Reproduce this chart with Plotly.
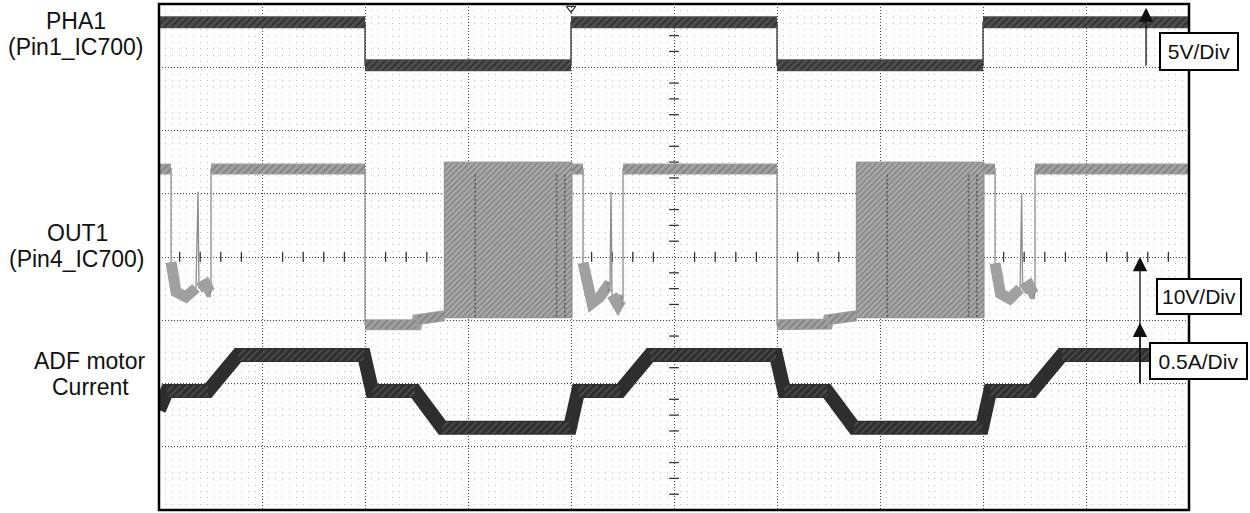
import numpy as np
import plotly.graph_objects as go

# ---------------- data (units: screen divisions; 10 div wide, 8 div tall, centre line = 0) ----------------
pha1_t = [0.0, 2.0, 2.0, 4.0, 4.0, 6.0, 6.0, 8.0, 8.0, 10.0]
pha1_v = [3.71, 3.71, 3.03, 3.03, 3.71, 3.71, 3.03, 3.03, 3.71, 3.71]

out1_t = [0.0, 0.117, 0.117, 0.165, 0.262, 0.359, 0.379, 0.388, 0.456, 0.495, 0.505, 0.505, 2.0, 2.0, 2.50, 2.51, 2.77, None,
          4.01, 4.117, 4.117, 4.204, 4.28, 4.35, 4.378, 4.388, 4.398, 4.456, 4.485, 4.505, 4.505, 6.0, 6.0, 6.49, 6.50, 6.77, None,
          8.01, 8.117, 8.117, 8.17, 8.26, 8.36, 8.375, 8.385, 8.45, 8.49, 8.505, 8.505, 10.0]
out1_v = [1.39, 1.39, -0.08, -0.55, -0.63, -0.49, 1.03, -0.49, -0.43, -0.55, -0.55, 1.39, 1.39, -1.07, -1.07, -0.99, -0.93, None,
          1.39, 1.39, -0.09, -0.73, -0.63, -0.47, -0.49, 1.03, -0.60, -0.76, -0.68, -0.68, 1.39, 1.39, -1.07, -1.06, -0.99, -0.93, None,
          1.39, 1.39, -0.10, -0.58, -0.66, -0.50, 1.00, -0.52, -0.45, -0.58, -0.58, 1.39, 1.39]

pwm_start = [2.77, 6.77]
pwm_end = [4.01, 8.01]
pwm_top = 1.50
pwm_bottom = -0.96
pwm_dense_t = [3.07, 3.86, 3.94, 7.07, 7.86, 7.94]   # darker columns inside the PWM bursts
pwm_dense_top = 1.30

cur_t = [0.0, 0.078, 0.476, 0.767, 1.99, 2.07, 2.485, 2.75, 3.99, 4.07, 4.476, 4.767, 5.99, 6.07,
         6.485, 6.75, 7.99, 8.07, 8.476, 8.767, 10.0]
cur_v = [-2.42, -2.12, -2.12, -1.55, -1.55, -2.12, -2.12, -2.70, -2.70, -2.12, -2.12, -1.55, -1.55, -2.12,
         -2.12, -2.70, -2.70, -2.12, -2.12, -1.55, -1.55]

left_labels = [("PHA1", 76, 21), ("(Pin1_IC700)", 76, 47),
               ("OUT1", 77, 233), ("(Pin4_IC700)", 77, 259),
               ("ADF motor", 90, 361), ("Current", 90, 387)]
scale_labels = ["5V/Div", "10V/Div", "0.5A/Div"]

# ---------------- geometry ----------------
W, H = 1250, 513
L, R, T, B = 159, 1189, 4, 510
PX_X = (R - L) / 10.0
PX_Y = (B - T) / 8.0


def px_x(x):
    return (x - L) / (R - L)


def px_y(y):
    return (B - y) / (B - T)


def split(t, v, thick_px, max_slope):
    tx, ty, hx, hy = [], [], [], []
    last = None
    for i in range(len(t) - 1):
        t0, v0, t1, v1 = t[i], v[i], t[i + 1], v[i + 1]
        if None in (t0, v0, t1, v1):
            continue
        dx = (t1 - t0) * PX_X
        dy = (v1 - v0) * PX_Y
        if dx <= 0 or abs(dy) > max_slope * dx:
            continue
        if last != (t0, v0):
            if tx:
                tx.append(None); ty.append(None)
            tx.append(t0); ty.append(v0)
        tx.append(t1); ty.append(v1)
        last = (t1, v1)
        if abs(dy) < 0.5 * dx:
            hh = thick_px * 0.42 / PX_Y
            hx += [t0, t1, t1, t0, t0, None]
            hy += [v0 + hh, v1 + hh, v1 - hh, v0 - hh, v0 + hh, None]
    return tx, ty, hx, hy


fig = go.Figure()

# graticule centre-line ticks
xt = [x for x in np.arange(0.2, 10.0, 0.2) if abs(x - round(x)) > 1e-6]
fig.add_trace(go.Scatter(x=xt, y=[0] * len(xt), mode="markers",
                         marker=dict(symbol="line-ns", size=7, color="#333", line=dict(width=1.3, color="#333")),
                         hoverinfo="skip", showlegend=False))
yt = [y for y in np.arange(-3.75, 4.0, 0.25) if abs(y - round(y)) > 1e-6]
fig.add_trace(go.Scatter(x=[5] * len(yt), y=yt, mode="markers",
                         marker=dict(symbol="line-ew", size=7, color="#333", line=dict(width=1.3, color="#333")),
                         hoverinfo="skip", showlegend=False))

# PWM blocks of OUT1
px_, py_ = [], []
for s, e in zip(pwm_start, pwm_end):
    px_ += [s, e, e, s, s, None]
    py_ += [pwm_top, pwm_top, pwm_bottom, pwm_bottom, pwm_top, None]
fig.add_trace(go.Scatter(x=px_, y=py_, mode="lines", fill="toself",
                         fillcolor="#a8a8a8", line=dict(color="#8a8a8a", width=1),
                         fillpattern=dict(shape="/", fgcolor="#606060", bgcolor="#ababab", size=4, solidity=0.45),
                         hoverinfo="skip", showlegend=False))
dx_, dy_ = [], []
for t in pwm_dense_t:
    dx_ += [t, t, None]
    dy_ += [pwm_dense_top, pwm_bottom, None]
fig.add_trace(go.Scatter(x=dx_, y=dy_, mode="lines", line=dict(color="#5a5a5a", width=1.6, dash="2px,2px"),
                         hoverinfo="skip", showlegend=False))


def add_trace(t, v, thin_color, thick_color, hatch_color, thick_px, max_slope):
    fig.add_trace(go.Scatter(x=t, y=v, mode="lines", line=dict(color=thin_color, width=1.3),
                             hoverinfo="skip", showlegend=False))
    tx, ty, hx, hy = split(t, v, thick_px, max_slope)
    fig.add_trace(go.Scatter(x=tx, y=ty, mode="lines", line=dict(color=thick_color, width=thick_px),
                             hoverinfo="skip", showlegend=False))
    fig.add_trace(go.Scatter(x=hx, y=hy, mode="lines", fill="toself", fillcolor="rgba(0,0,0,0)",
                             line=dict(width=0, color="rgba(0,0,0,0)"),
                             fillpattern=dict(shape="/", fgcolor=hatch_color, bgcolor="rgba(0,0,0,0)",
                                              size=5, solidity=0.35),
                             hoverinfo="skip", showlegend=False))


add_trace(out1_t, out1_v, "#8c8c8c", "#a0a0a0", "#626262", 11, 7.0)
add_trace(pha1_t, pha1_v, "#333", "#4e4e4e", "#111", 12, 7.0)
add_trace(cur_t, cur_v, "#111", "#2e2e2e", "#6a6a6a", 14, 7.0)

# trigger marker
fig.add_trace(go.Scatter(x=[4.0], y=[3.93], mode="markers",
                         marker=dict(symbol="triangle-down-open", size=8, color="#333",
                                     line=dict(width=1.2, color="#333")),
                         hoverinfo="skip", showlegend=False))

annotations = []
for txt, cx, cy in left_labels:
    annotations.append(dict(text=txt, xref="paper", yref="paper", x=px_x(cx), y=px_y(cy),
                            xanchor="center", yanchor="middle", showarrow=False,
                            font=dict(size=23, color="#111")))

boxes = [(scale_labels[0], 1199, 51, 72, 31),
         (scale_labels[1], 1199, 296.5, 78, 29),
         (scale_labels[2], 1198.5, 361, 91, 30)]
for txt, cx, cy, w, h in boxes:
    annotations.append(dict(text=txt, xref="paper", yref="paper", x=px_x(cx), y=px_y(cy),
                            xanchor="center", yanchor="middle", showarrow=False,
                            width=w, height=h, borderpad=2, borderwidth=2, bordercolor="#000",
                            bgcolor="#fff", font=dict(size=21, color="#111")))

arrows = [(9.583, 3.94, 3.0), (9.524, 0.0, -2.02), (9.524, -1.04, -2.02)]
for ax_, head, tail in arrows:
    annotations.append(dict(text="", x=ax_, y=head, ax=ax_, ay=tail, xref="x", yref="y",
                            axref="x", ayref="y", showarrow=True, arrowhead=2, arrowsize=2.2,
                            arrowwidth=1.3, arrowcolor="#111", standoff=0))

fig.update_layout(
    width=W, height=H,
    margin=dict(l=L, r=W - R, t=T, b=H - B),
    paper_bgcolor="#fff", plot_bgcolor="#fff",
    font=dict(family="Liberation Sans, Arial, sans-serif"),
    showlegend=False,
    annotations=annotations,
    shapes=[dict(type="rect", xref="paper", yref="paper", x0=0, x1=1, y0=0, y1=1,
                 line=dict(color="#000", width=2.5), layer="above")],
)
fig.update_xaxes(range=[0, 10], dtick=1, showticklabels=False, ticks="", zeroline=False,
                 showgrid=True, gridcolor="#444", gridwidth=1, griddash="1px,2px",
                 minor=dict(dtick=1 / 15, showgrid=True, gridcolor="#bdbdbd", gridwidth=1,
                            griddash="1px,5.325px"),
                 showline=False, fixedrange=True)
fig.update_yaxes(range=[-4, 4], dtick=1, showticklabels=False, ticks="", zeroline=False,
                 showgrid=True, gridcolor="#444", gridwidth=1, griddash="1px,2px",
                 showline=False, fixedrange=True)

fig.write_html("out.html", config={"displayModeBar": False},
               post_script="document.body.style.margin='0px';document.body.style.overflow='hidden';")
